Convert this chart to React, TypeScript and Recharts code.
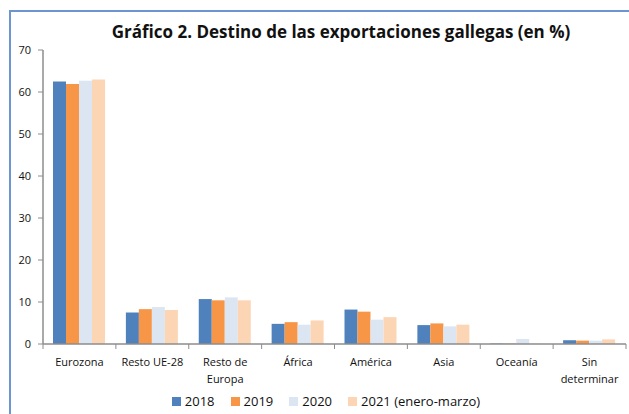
import React from 'react';
import { BarChart, Bar, XAxis, YAxis } from 'recharts';

const categories = ['Eurozona', 'Resto UE-28', 'Resto de\nEuropa', 'África', 'América', 'Asia', 'Oceanía', 'Sin\ndeterminar'];
const v2018 = [62.5, 7.5, 10.7, 4.8, 8.2, 4.5, 0.1, 0.9];
const v2019 = [61.9, 8.3, 10.4, 5.2, 7.7, 4.9, 0.1, 0.8];
const v2020 = [62.7, 8.8, 11.1, 4.6, 5.8, 4.2, 1.2, 0.8];
const v2021 = [63.0, 8.1, 10.4, 5.6, 6.4, 4.6, 0.05, 1.1];
const yTicks = [0, 10, 20, 30, 40, 50, 60, 70];

const SERIES = [
  { key: 'y2018', label: '2018', color: '#4F81BD' },
  { key: 'y2019', label: '2019', color: '#F79646' },
  { key: 'y2020', label: '2020', color: '#DCE6F2' },
  { key: 'y2021', label: '2021 (enero-marzo)', color: '#FCD5B5' },
];

const data = categories.map((name, i) => ({
  name,
  y2018: v2018[i],
  y2019: v2019[i],
  y2020: v2020[i],
  y2021: v2021[i],
}));

const FONT = '"Open Sans", sans-serif';
const AXIS = '#8c8c8c';
const W = 629;
const H = 414;
const X_H = 30;
const MARGIN = { top: 50, right: 3, bottom: 70 - X_H, left: 0 };
const Y_W = 43;
const HALF_BAND = (W - MARGIN.right - Y_W) / categories.length / 2;

// x labels + the tick marks sit between categories, like Excel does it
const XTick = (props: any) => {
  const { x, y, payload, index } = props;
  const lines = String(payload.value).split('\n');
  return (
    <g>
      <line x1={x - HALF_BAND} y1={y} x2={x - HALF_BAND} y2={y + 5} stroke={AXIS} />
      {index === categories.length - 1 && (
        <line x1={x + HALF_BAND} y1={y} x2={x + HALF_BAND} y2={y + 5} stroke={AXIS} />
      )}
      {lines.map((l, i) => (
        <text key={i} x={x} y={y + 22 + i * 16.7} textAnchor="middle" fill="#111" fontSize={11} fontFamily={FONT}>
          {l}
        </text>
      ))}
    </g>
  );
};

export default function App() {
  return (
    <div style={{ position: 'absolute', left: 0, top: 0, width: W, height: H, overflow: 'hidden', background: '#fff' }}>
      <div
        style={{
          position: 'absolute',
          left: 9,
          top: 10,
          width: 700,
          height: 500,
          borderLeft: '2px solid #6d95d0',
          borderTop: '2px solid #6d95d0',
        }}
      />
      <div
        style={{
          position: 'absolute',
          left: 0,
          width: 682,
          top: 20,
          textAlign: 'center',
          fontFamily: FONT,
          fontWeight: 700,
          fontSize: 17,
          color: '#111',
          lineHeight: '23px',
        }}
      >
        Gráfico 2. Destino de las exportaciones gallegas (en %)
      </div>
      <div style={{ position: 'absolute', left: 0, top: 0 }}>
        <BarChart width={W} height={H} data={data} margin={MARGIN} barCategoryGap={10} barGap={0}>
          <XAxis
            dataKey="name"
            height={X_H}
            interval={0}
            tickLine={false}
            tickSize={0}
            tickMargin={0}
            axisLine={{ stroke: AXIS, strokeWidth: 1.5 }}
            tick={<XTick />}
          />
          <YAxis
            width={Y_W}
            domain={[0, 70]}
            ticks={yTicks}
            tickSize={5}
            tickMargin={7}
            axisLine={{ stroke: AXIS, strokeWidth: 1.5 }}
            tickLine={{ stroke: AXIS }}
            tick={{ fill: '#111', fontSize: 11, fontFamily: FONT }}
          />
          {SERIES.map(s => (
            <Bar key={s.key} dataKey={s.key} fill={s.color} isAnimationActive={false} />
          ))}
        </BarChart>
      </div>
      <div
        style={{
          position: 'absolute',
          left: 0,
          width: 652,
          top: 392,
          display: 'flex',
          justifyContent: 'center',
          gap: 16,
          fontFamily: FONT,
          fontSize: 13,
          color: '#111',
          lineHeight: '18px',
        }}
      >
        {SERIES.map(s => (
          <div key={s.key} style={{ display: 'flex', alignItems: 'center' }}>
            <span style={{ width: 9, height: 9, background: s.color, marginRight: 4, display: 'inline-block' }} />
            <span>{s.label}</span>
          </div>
        ))}
      </div>
    </div>
  );
}
